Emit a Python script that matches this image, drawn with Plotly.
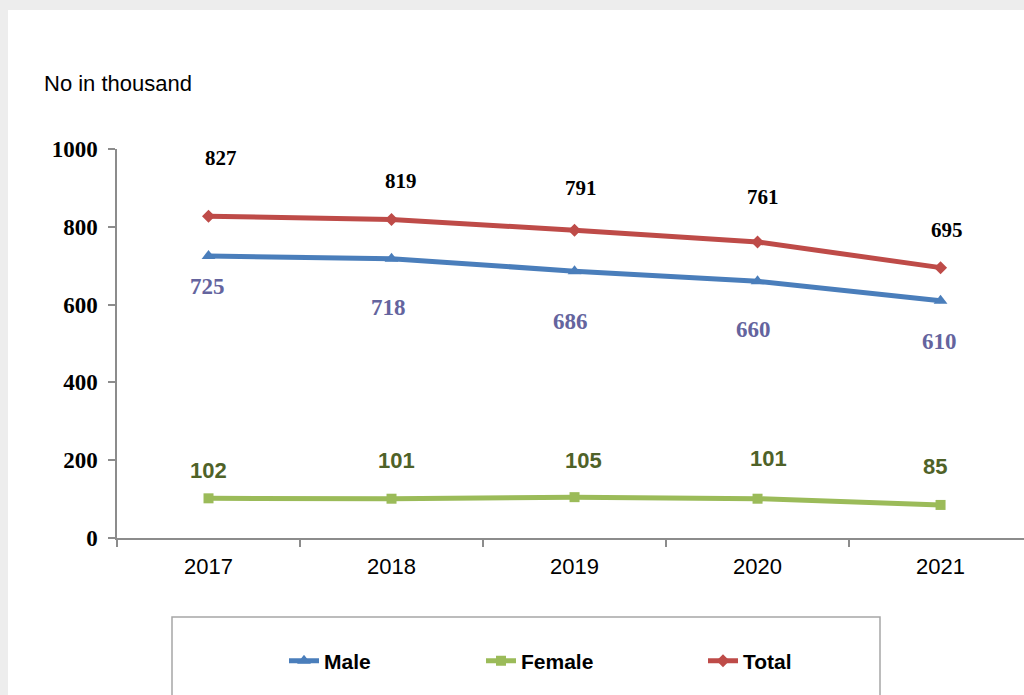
import plotly.graph_objects as go

# ---- data ----
years = ["2017", "2018", "2019", "2020", "2021"]
male = [725, 718, 686, 660, 610]
female = [102, 101, 105, 101, 85]
total = [827, 819, 791, 761, 695]
y_ticks = [0, 200, 400, 600, 800, 1000]
unit_label = "No in thousand"

# ---- label offsets (pixels: dx, dy up) ----
total_off = [(12, 58), (9, 38), (6, 42), (5, 45), (6, 38)]
male_off = [(-1, -31), (-3, -49), (-4, -50), (-4, -48), (-1, -41)]
female_off = [(0, 28), (5, 38), (9, 37), (11, 40), (-6, 38)]

C_MALE = "#4A7EBB"
C_FEMALE = "#9BBB59"
C_TOTAL = "#BE4B48"

W, H = 1024, 695
L, R, T, B = 117, 0, 149, 157
PW = W - L - R
PH = H - T - B


def px_x(px):
    return (px - L) / PW


def px_y(py):
    return (H - B - py) / PH


fig = go.Figure()
fig.add_trace(go.Scatter(
    x=years, y=male, name="Male", mode="lines+markers",
    line=dict(color=C_MALE, width=5),
    marker=dict(symbol="triangle-up", size=12, color=C_MALE),
    legend="legend"))
fig.add_trace(go.Scatter(
    x=years, y=female, name="Female", mode="lines+markers",
    line=dict(color=C_FEMALE, width=5),
    marker=dict(symbol="square", size=10, color=C_FEMALE),
    legend="legend2"))
fig.add_trace(go.Scatter(
    x=years, y=total, name="Total", mode="lines+markers",
    line=dict(color=C_TOTAL, width=5),
    marker=dict(symbol="diamond", size=10, color=C_TOTAL),
    legend="legend3"))

annotations = []
for i, (v, (dx, dy)) in enumerate(zip(total, total_off)):
    annotations.append(dict(x=i, y=v, xref="x", yref="y", text=str(v),
                            showarrow=False, xshift=dx, yshift=dy,
                            xanchor="center", yanchor="middle",
                            font=dict(family="Liberation Serif, Times New Roman, serif",
                                      size=21, color="#000000", weight="bold")))
for i, (v, (dx, dy)) in enumerate(zip(male, male_off)):
    annotations.append(dict(x=i, y=v, xref="x", yref="y", text=str(v),
                            showarrow=False, xshift=dx, yshift=dy,
                            xanchor="center", yanchor="middle",
                            font=dict(family="Liberation Serif, Times New Roman, serif",
                                      size=23, color="#64649E", weight="bold")))
for i, (v, (dx, dy)) in enumerate(zip(female, female_off)):
    annotations.append(dict(x=i, y=v, xref="x", yref="y", text=str(v),
                            showarrow=False, xshift=dx, yshift=dy,
                            xanchor="center", yanchor="middle",
                            font=dict(family="Liberation Sans, Arial, sans-serif",
                                      size=22, color="#4F6228", weight="bold")))
annotations.append(dict(x=px_x(42), y=px_y(83), xref="paper", yref="paper",
                        text=unit_label, showarrow=False, xanchor="left", yanchor="middle",
                        font=dict(family="Liberation Sans, Arial, sans-serif",
                                  size=22, color="#000000")))

shapes = [
    # outer light frame (background behind the white panel)
    dict(type="rect", xref="paper", yref="paper", layer="below",
         x0=px_x(0), x1=px_x(W), y0=px_y(H), y1=px_y(0),
         fillcolor="#EDEDED", line=dict(width=0)),
    dict(type="rect", xref="paper", yref="paper", layer="below",
         x0=px_x(8), x1=px_x(W), y0=px_y(H), y1=px_y(10),
         fillcolor="#FFFFFF", line=dict(width=0)),
    # legend box
    dict(type="rect", xref="paper", yref="paper",
         x0=px_x(172), x1=px_x(880), y0=px_y(705), y1=px_y(617),
         fillcolor="rgba(0,0,0,0)", line=dict(color="#A6A6A6", width=1.5)),
]

legend_font = dict(family="Liberation Sans, Arial, sans-serif", size=21,
                   color="#000000", weight="bold")


def leg(px):
    return dict(x=px_x(px), y=px_y(661), xref="paper", yref="paper",
                xanchor="left", yanchor="middle", orientation="h",
                bgcolor="rgba(0,0,0,0)", font=legend_font,
                borderwidth=0)


fig.update_layout(
    width=W, height=H,
    margin=dict(l=L, r=R, t=T, b=B),
    paper_bgcolor="#FFFFFF", plot_bgcolor="#FFFFFF",
    showlegend=True,
    legend=leg(284), legend2=leg(481), legend3=leg(703),
    annotations=annotations, shapes=shapes,
    xaxis=dict(type="category", range=[-0.5, 4.456], showgrid=False, zeroline=False,
               showline=True, linecolor="#8C8C8C", linewidth=1.5,
               ticks="outside", tickson="boundaries", ticklen=7, tickcolor="#8C8C8C",
               tickwidth=1.5, ticklabelstandoff=8,
               tickfont=dict(family="Liberation Sans, Arial, sans-serif", size=22, color="#000000")),
    yaxis=dict(range=[0, 1000], tickvals=y_ticks, showgrid=False, zeroline=False,
               showline=True, linecolor="#8C8C8C", linewidth=1.5,
               ticks="outside", ticklen=7, tickcolor="#8C8C8C", tickwidth=1.5,
               ticklabelstandoff=6,
               tickfont=dict(family="Liberation Serif, Times New Roman, serif", size=23,
                             color="#000000", weight="bold")),
)

fig.write_html(
    "out.html",
    config={"displayModeBar": False},
    post_script="document.body.style.margin='0';document.body.style.overflow='hidden';",
)
